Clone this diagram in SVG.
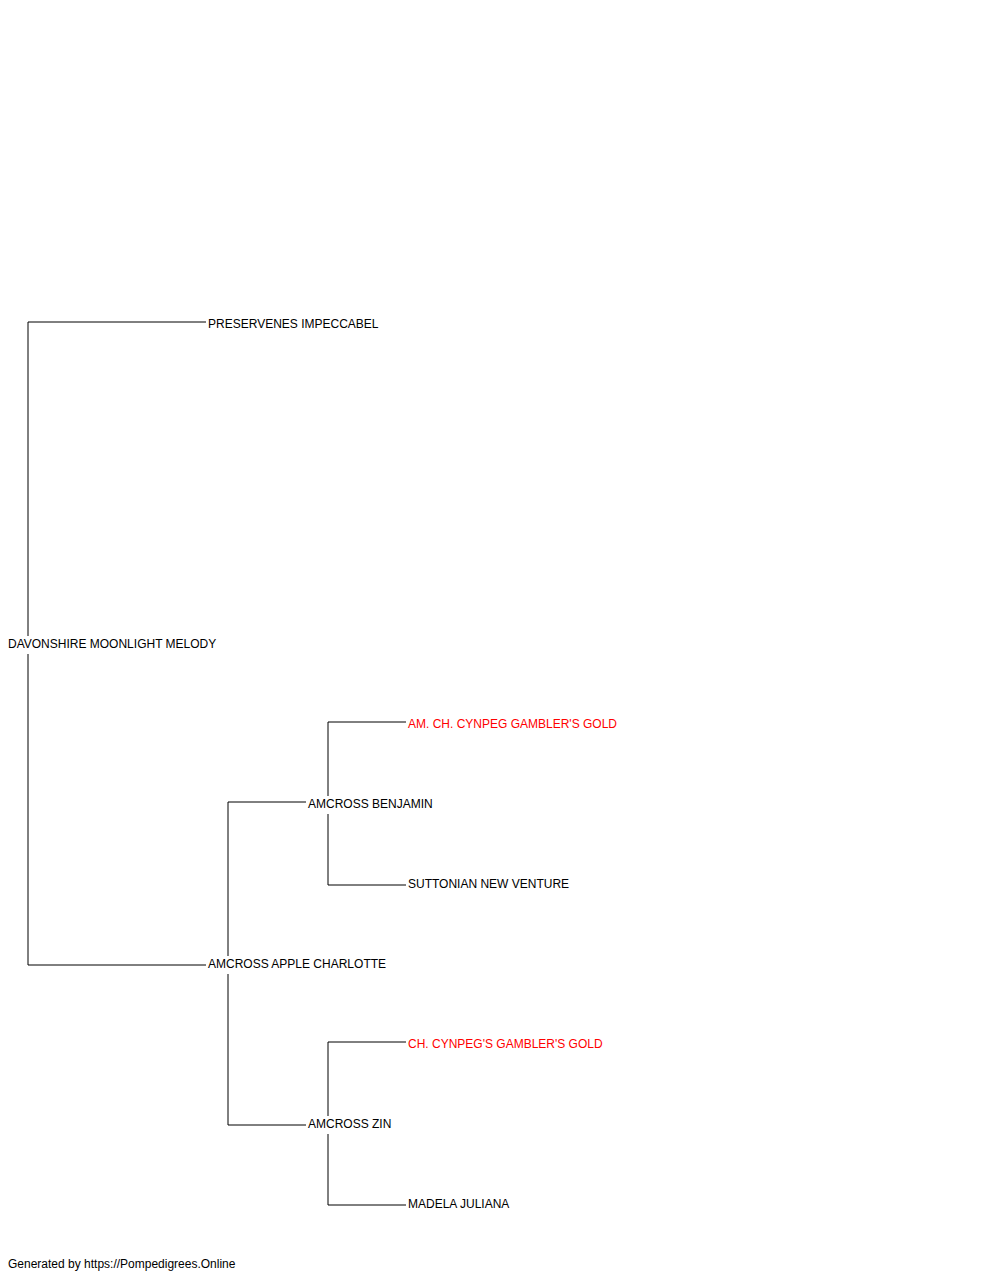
<svg xmlns="http://www.w3.org/2000/svg" width="1000" height="1280" viewBox="0 0 1000 1280">
<style>
.l{stroke:#000;stroke-width:1;fill:none}
.t{font-family:"Liberation Sans",Arial,sans-serif;font-size:12px;fill:#000}
.r{fill:#ff0000}
</style>
<rect width="1000" height="1280" fill="#fff"/>
<g id="connectors">
<path class="l" d="M206,322H28V636"/>
<path class="l" d="M28,654V965H206"/>
<path class="l" d="M306,802H228V956"/>
<path class="l" d="M228,974V1125H306"/>
<path class="l" d="M406,722H328V796"/>
<path class="l" d="M328,814V885H406"/>
<path class="l" d="M406,1042H328V1116"/>
<path class="l" d="M328,1134V1205H406"/>
</g>
<g id="n-davonshire"><text class="t" x="8" y="648">DAVONSHIRE MOONLIGHT MELODY</text></g>
<g id="n-preservenes"><text class="t" x="208" y="328">PRESERVENES IMPECCABEL</text></g>
<g id="n-charlotte"><text class="t" x="208" y="968">AMCROSS APPLE CHARLOTTE</text></g>
<g id="n-benjamin"><text class="t" x="308" y="808">AMCROSS BENJAMIN</text></g>
<g id="n-zin"><text class="t" x="308" y="1128">AMCROSS ZIN</text></g>
<g id="n-amch"><text class="t r" x="408" y="728">AM. CH. CYNPEG GAMBLER'S GOLD</text></g>
<g id="n-suttonian"><text class="t" x="408" y="888">SUTTONIAN NEW VENTURE</text></g>
<g id="n-ch"><text class="t r" x="408" y="1048">CH. CYNPEG'S GAMBLER'S GOLD</text></g>
<g id="n-madela"><text class="t" x="408" y="1208">MADELA JULIANA</text></g>
<g id="footer"><text class="t" x="8" y="1268">Generated by https://Pompedigrees.Online</text></g>
</svg>
